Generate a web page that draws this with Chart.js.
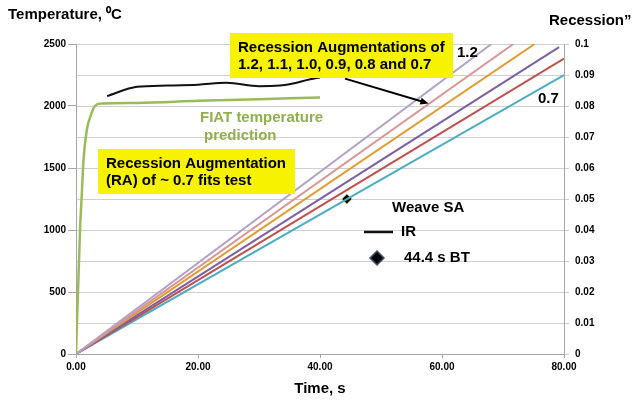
<!DOCTYPE html>
<html>
<head>
<meta charset="utf-8">
<script src="https://cdn.jsdelivr.net/npm/chart.js@4.4.0/dist/chart.umd.min.js"></script>
<style>
    html, body { margin:0; padding:0; background:#fff; }
</style>
</head>
<body>
<canvas id="myChart" width="632" height="400"></canvas>
<script>

//------------------------------- data

// recession lines, one per augmentation factor (right axis)
const raFactors  = ['1.2', '1.1', '1.0', '0.9', '0.8', '0.7'];
const raEndTime  = [68.1, 71.7, 75.2, 79.2, 80, 80];
const raEndValue = [0.1, 0.1, 0.1, 0.099, 0.0953, 0.090];

// FIAT temperature prediction (left axis)
const fiatTime = [0, 0.66, 0.93, 1.2, 1.75, 2.4, 3.1, 4.2, 10, 20, 30, 40];
const fiatTemp = [0, 1000, 1270, 1540, 1800, 1920, 2000, 2020, 2025, 2042, 2055, 2068];

// IR measured temperature (left axis)
const irTime = [5.1, 10, 15, 20, 24.7, 30, 33.4, 35, 38.4, 40];
const irTemp = [2080, 2155, 2165, 2172, 2187, 2160, 2165, 2175, 2215, 2230];

// burn-through point
const btTime = [44.4];
const btRecession = [0.05];

// ticks
const xTicks   = [0, 20, 40, 60, 80];
const tempTicks = [0, 500, 1000, 1500, 2000, 2500];
const recTicks = [0, 0.01, 0.02, 0.03, 0.04, 0.05, 0.06, 0.07, 0.08, 0.09, 0.1];

//------------------------------- styles

const raColors = ['#b3a2c7', '#d99694', '#e39a2e', '#7d5fa6', '#c0504d', '#4bacc6'];
const FONT = '"Liberation Sans", Arial, sans-serif';
const AXIS_GRAY = '#a6a6a6';
const GRID_GRAY = '#cfcfcf';

//-------------------------------

let datasets = [];

for (let i = 0; i < raFactors.length; i++) {
    datasets.push({
        label: 'RA ' + raFactors[i],
        data: [ {x: 0, y: 0}, {x: raEndTime[i], y: raEndValue[i]} ],
        yAxisID: 'y1',
        borderColor: raColors[i],
        borderWidth: 2,
        pointRadius: 0
    });
}

datasets.push({
    label: 'FIAT',
    data: fiatTime.map((t, i) => ({x: t, y: fiatTemp[i]})),
    yAxisID: 'y',
    borderColor: '#9bbb59',
    borderWidth: 2.5,
    pointRadius: 0,
    cubicInterpolationMode: 'monotone'
});

datasets.push({
    label: 'IR',
    data: irTime.map((t, i) => ({x: t, y: irTemp[i]})),
    yAxisID: 'y',
    borderColor: '#111',
    borderWidth: 2,
    pointRadius: 0,
    cubicInterpolationMode: 'monotone'
});

datasets.push({
    label: '44.4 s BT',
    data: btTime.map((t, i) => ({x: t, y: btRecession[i]})),
    yAxisID: 'y1',
    showLine: false,
    pointStyle: 'rectRot',
    pointRadius: 5,
    backgroundColor: '#000',
    borderColor: '#b8c25a',
    borderWidth: 1
});


function drawText(ctx, txt, x, y, color, size) {
    ctx.font = 'bold ' + size + 'px ' + FONT;
    ctx.fillStyle = color;
    ctx.textAlign = 'left';
    ctx.textBaseline = 'middle';
    ctx.fillText(txt, x, y);
}

// text boxes, arrow, legend and axis captions
const notes = {
    id: 'notes',
    afterDraw(chart) {
        const ctx = chart.ctx;
        const sx = chart.scales.x;
        const sy = chart.scales.y;
        ctx.save();

        // axis captions
        drawText(ctx, 'Temperature, \u2070C', 8, 15, '#000', 15);
        drawText(ctx, 'Recession\u201D', 549, 21, '#000', 15);

        // yellow boxes
        ctx.fillStyle = '#f7f200';
        ctx.fillRect(230, 33, 223, 45);
        ctx.fillRect(98, 149, 197, 45);
        drawText(ctx, 'Recession Augmentations of', 238, 48, '#000', 15);
        drawText(ctx, '1.2, 1.1, 1.0, 0.9, 0.8 and 0.7', 238, 65, '#000', 15);
        drawText(ctx, 'Recession Augmentation', 106, 164, '#000', 15);
        drawText(ctx, '(RA) of ~ 0.7 fits test', 106, 181, '#000', 15);

        // green caption
        drawText(ctx, 'FIAT temperature', 200, 118, '#8fb04c', 15);
        drawText(ctx, 'prediction', 204, 136, '#8fb04c', 15);

        // line end labels
        drawText(ctx, '1.2', 457, 53, '#000', 15);
        drawText(ctx, '0.7', 538, 99, '#000', 15);

        // arrow to the lines
        let x0 = sx.getPixelForValue(44.1), y0 = sy.getPixelForValue(2221);
        let x1 = sx.getPixelForValue(57.8), y1 = sy.getPixelForValue(2020);
        let ang = Math.atan2(y1 - y0, x1 - x0);
        ctx.strokeStyle = '#000';
        ctx.lineWidth = 2;
        ctx.beginPath();
        ctx.moveTo(x0, y0);
        ctx.lineTo(x1 - 6 * Math.cos(ang), y1 - 6 * Math.sin(ang));
        ctx.stroke();
        ctx.fillStyle = '#000';
        ctx.beginPath();
        ctx.moveTo(x1, y1);
        ctx.lineTo(x1 - 9 * Math.cos(ang - 0.4), y1 - 9 * Math.sin(ang - 0.4));
        ctx.lineTo(x1 - 9 * Math.cos(ang + 0.4), y1 - 9 * Math.sin(ang + 0.4));
        ctx.closePath();
        ctx.fill();

        // legend
        drawText(ctx, 'Weave SA', 392, 208, '#000', 15);
        ctx.strokeStyle = '#111';
        ctx.lineWidth = 2.5;
        ctx.beginPath();
        ctx.moveTo(364, 232);
        ctx.lineTo(393, 232);
        ctx.stroke();
        drawText(ctx, 'IR', 401, 232, '#000', 15);

        ctx.fillStyle = '#000';
        ctx.strokeStyle = '#3d5270';
        ctx.lineWidth = 1.5;
        ctx.beginPath();
        ctx.moveTo(377, 251);
        ctx.lineTo(384, 258);
        ctx.lineTo(377, 265);
        ctx.lineTo(370, 258);
        ctx.closePath();
        ctx.fill();
        ctx.stroke();
        drawText(ctx, '44.4 s BT', 404, 258, '#000', 15);

        ctx.restore();
    }
};


const tickFont = { family: FONT, size: 10, weight: 'bold' };

const ctx = document.getElementById('myChart');

const kave_chart = new Chart(ctx, {
    type: 'line',
    data: { datasets: datasets },
    plugins: [notes],
    options: {
        responsive: false,
        animation: false,
        layout: { padding: { top: 44, left: 0, right: 0, bottom: 0 } },
        plugins: {
            legend: { display: false },
            tooltip: { enabled: false }
        },
        scales: {
            x: {
                type: 'linear',
                min: 0, max: 80,
                afterBuildTicks: s => { s.ticks = xTicks.map(v => ({value: v})) },
                afterFit: s => { s.height = 46 },
                ticks: {
                    callback: v => Number(v).toFixed(2),
                    font: tickFont, color: '#000', padding: 3, maxRotation: 0
                },
                grid: { drawOnChartArea: false, color: AXIS_GRAY, tickLength: 4 },
                border: { color: AXIS_GRAY },
                title: {
                    display: true, text: 'Time, s', color: '#000',
                    font: { family: FONT, size: 15, weight: 'bold' },
                    padding: { top: 0, bottom: 2 }
                }
            },
            y: {
                position: 'left',
                min: 0, max: 2500,
                afterBuildTicks: s => { s.ticks = tempTicks.map(v => ({value: v})) },
                afterFit: s => { s.width = 76 },
                ticks: { callback: v => String(v), font: tickFont, color: '#000', padding: 2 },
                grid: { drawOnChartArea: false, color: AXIS_GRAY, tickLength: 8 },
                border: { color: AXIS_GRAY }
            },
            y1: {
                position: 'right',
                min: 0, max: 0.1,
                afterBuildTicks: s => { s.ticks = recTicks.map(v => ({value: v})) },
                afterFit: s => { s.width = 68 },
                ticks: {
                    callback: v => String(Number(Number(v).toFixed(2))),
                    font: tickFont, color: '#000', padding: 6
                },
                grid: { color: GRID_GRAY, tickLength: 5 },
                border: { color: AXIS_GRAY }
            }
        }
    }
});

</script>
</body>
</html>
